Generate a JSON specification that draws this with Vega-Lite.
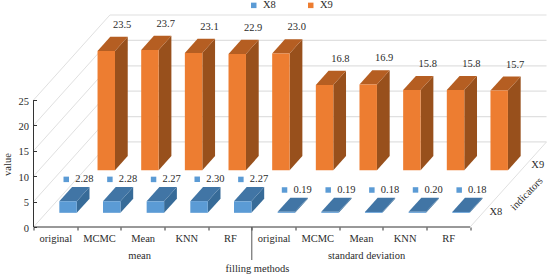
{
"$schema":"https://vega.github.io/schema/vega-lite/v6.json",
"width":513,"height":212,
"autosize":{"type":"none"},
"padding":{"left":33.5,"top":15,"right":3.5,"bottom":50},
"background":"white",
"config":{"view":{"stroke":null},"font":"Liberation Serif","text":{"font":"Liberation Serif","fontSize":10.5,"color":"#2b2b2b"}},
"datasets":{
"bars":[
{"group":"mean","method":"original","indicator":"X8","value":2.28},
{"group":"mean","method":"MCMC","indicator":"X8","value":2.28},
{"group":"mean","method":"Mean","indicator":"X8","value":2.27},
{"group":"mean","method":"KNN","indicator":"X8","value":2.30},
{"group":"mean","method":"RF","indicator":"X8","value":2.27},
{"group":"standard deviation","method":"original","indicator":"X8","value":0.19},
{"group":"standard deviation","method":"MCMC","indicator":"X8","value":0.19},
{"group":"standard deviation","method":"Mean","indicator":"X8","value":0.18},
{"group":"standard deviation","method":"KNN","indicator":"X8","value":0.20},
{"group":"standard deviation","method":"RF","indicator":"X8","value":0.18},
{"group":"mean","method":"original","indicator":"X9","value":23.5},
{"group":"mean","method":"MCMC","indicator":"X9","value":23.7},
{"group":"mean","method":"Mean","indicator":"X9","value":23.1},
{"group":"mean","method":"KNN","indicator":"X9","value":22.9},
{"group":"mean","method":"RF","indicator":"X9","value":23.0},
{"group":"standard deviation","method":"original","indicator":"X9","value":16.8},
{"group":"standard deviation","method":"MCMC","indicator":"X9","value":16.9},
{"group":"standard deviation","method":"Mean","indicator":"X9","value":15.8},
{"group":"standard deviation","method":"KNN","indicator":"X9","value":15.8},
{"group":"standard deviation","method":"RF","indicator":"X9","value":15.7}
],
"grid":[{"tick":0},{"tick":5},{"tick":10},{"tick":15},{"tick":20},{"tick":25}]
},
"data":{"name":"bars"},
"transform":[
{"window":[{"op":"row_number","as":"n"}],"groupby":["indicator"]},
{"calculate":"datum.n-1","as":"idx"},
{"calculate":"datum.idx+0.3","as":"c0"},
{"calculate":"datum.idx+0.7","as":"c1"},
{"calculate":"datum.indicator=='X8'?1/6:2/3","as":"dF"},
{"calculate":"datum.dF+1/6","as":"dB"}
],
"resolve":{"scale":{"color":"independent"},"axis":{"x":"independent","y":"independent"}},
"layer":[
{"data":{"name":"grid"},"transform":[{"calculate":"datum.tick+16.75","as":"ty"}],
 "mark":{"type":"rule","color":"#e0e0e0","strokeWidth":1.2},
 "encoding":{
 "x":{"datum":1.75,"type":"quantitative","scale":{"domain":[0,11.75],"nice":false,"zero":false},
  "axis":{"values":[0,1,2,3,4,5,6,7,8,9,10],"domain":false,"grid":false,"tickSize":3,"tickColor":"#333333","labelFontSize":10.5,"labelFont":"Liberation Serif","labelColor":"#2b2b2b","labelOffset":21.83,"labelPadding":3,"labelOverlap":false,"labelFlush":false,"labelExpr":"['original','MCMC','Mean','KNN','RF','original','MCMC','Mean','KNN','RF',''][datum.value]","title":"filling methods","titleFont":"Liberation Serif","titleFontSize":10.5,"titleFontWeight":"normal","titleColor":"#2b2b2b","titleX":223.5,"titleY":41,"titleAnchor":"middle","titleBaseline":"middle"}},
 "x2":{"datum":11.75},
 "y":{"field":"ty","type":"quantitative","scale":{"domain":[0,41.75],"nice":false,"zero":false},
  "axis":{"values":[0,5,10,15,20,25],"domain":false,"grid":false,"tickSize":-3,"tickColor":"#333333","labelFontSize":10.5,"labelFont":"Liberation Serif","labelColor":"#2b2b2b","labelPadding":8,"labelOffset":1,"title":"value","titleFont":"Liberation Serif","titleFontSize":10.5,"titleFontWeight":"normal","titleColor":"#2b2b2b","titleX":-26.5,"titleY":149,"titleAngle":-90,"titleAnchor":"middle","titleBaseline":"middle"}}
 }},
{"data":{"name":"grid"},"transform":[{"calculate":"datum.tick+16.75","as":"ty"}],
 "mark":{"type":"rule","color":"#e0e0e0","strokeWidth":1},
 "encoding":{
 "x":{"datum":0,"type":"quantitative","scale":{"domain":[0,11.75],"nice":false,"zero":false},"axis":null},
 "x2":{"datum":1.75},
 "y":{"field":"tick","type":"quantitative","scale":{"domain":[0,41.75],"nice":false,"zero":false},"axis":null},
 "y2":{"field":"ty"}
 }},
{"data":{"name":"grid"},"transform":[{"filter":"datum.tick==0"},{"calculate":"datum.tick+16.75","as":"ty"}],
 "mark":{"type":"rule","color":"#e0e0e0","strokeWidth":1},
 "encoding":{
 "x":{"datum":10,"type":"quantitative","scale":{"domain":[0,11.75],"nice":false,"zero":false},"axis":null},
 "x2":{"datum":11.75},
 "y":{"field":"tick","type":"quantitative","scale":{"domain":[0,41.75],"nice":false,"zero":false},"axis":null},
 "y2":{"field":"ty"}
 }},
{"data":{"name":"grid"},"transform":[{"filter":"datum.tick==0"}],
 "mark":{"type":"rule","color":"#333333","strokeWidth":1},
 "encoding":{
 "x":{"datum":0,"type":"quantitative","scale":{"domain":[0,11.75],"nice":false,"zero":false},"axis":null},
 "x2":{"datum":10},
 "y":{"field":"tick","type":"quantitative","scale":{"domain":[0,41.75],"nice":false,"zero":false},"axis":null}
 }},
{"data":{"name":"grid"},"transform":[{"filter":"datum.tick==0"}],
 "mark":{"type":"rule","color":"#333333","strokeWidth":1},
 "encoding":{
 "x":{"datum":0,"type":"quantitative","scale":{"domain":[0,11.75],"nice":false,"zero":false},"axis":null},
 "y":{"datum":0,"type":"quantitative","scale":{"domain":[0,41.75],"nice":false,"zero":false},"axis":null},
 "y2":{"datum":25}
 }},
{"data":{"name":"grid"},"transform":[{"filter":"datum.tick==0"}],
 "mark":{"type":"rule","color":"#555555","strokeWidth":1},
 "encoding":{
 "x":{"datum":5,"type":"quantitative","scale":{"domain":[0,11.75],"nice":false,"zero":false},"axis":null},
 "y":{"datum":0,"type":"quantitative","scale":{"domain":[0,41.75],"nice":false,"zero":false},"axis":null},
 "y2":{"datum":-6.5}
 }},
{"transform":[{"fold":["dF","dB"],"as":["edge","d"]},
 {"calculate":"datum.c1+1.75*datum.d","as":"sx"},
 {"calculate":"datum.value+16.75*datum.d","as":"st"},
 {"calculate":"16.75*datum.d","as":"sb"}],
 "mark":{"type":"area","orient":"vertical","opacity":1},
 "encoding":{
 "x":{"field":"sx","type":"quantitative","scale":{"domain":[0,11.75],"nice":false,"zero":false},"axis":null},
 "y":{"field":"st","type":"quantitative","scale":{"domain":[0,41.75],"nice":false,"zero":false},"axis":null},
 "y2":{"field":"sb"},
 "detail":{"field":"idx"},
 "color":{"field":"indicator","type":"nominal","legend":null,"scale":{"domain":["X8","X9"],"range":["#376B98","#98501C"]}}
 }},
{"transform":[{"fold":["dF","dB"],"as":["edge","d"]},
 {"calculate":"datum.c0+1.75*datum.d","as":"tx0"},
 {"calculate":"datum.c1+1.75*datum.d","as":"tx1"},
 {"calculate":"datum.value+16.75*datum.d","as":"st"}],
 "mark":{"type":"area","orient":"horizontal","opacity":1},
 "encoding":{
 "y":{"field":"st","type":"quantitative","scale":{"domain":[0,41.75],"nice":false,"zero":false},"axis":null},
 "x":{"field":"tx0","type":"quantitative","scale":{"domain":[0,11.75],"nice":false,"zero":false},"axis":null},
 "x2":{"field":"tx1"},
 "detail":{"field":"idx"},
 "color":{"field":"indicator","type":"nominal","legend":null,"scale":{"domain":["X8","X9"],"range":["#4175A5","#B55E22"]}}
 }},
{"transform":[
 {"calculate":"datum.c0+1.75*datum.dF","as":"fx0"},
 {"calculate":"datum.c1+1.75*datum.dF","as":"fx1"},
 {"calculate":"datum.value+16.75*datum.dF","as":"ft"},
 {"calculate":"16.75*datum.dF","as":"fb"}],
 "mark":{"type":"rect"},
 "encoding":{
 "x":{"field":"fx0","type":"quantitative","scale":{"domain":[0,11.75],"nice":false,"zero":false},"axis":null},
 "x2":{"field":"fx1"},
 "y":{"field":"ft","type":"quantitative","scale":{"domain":[0,41.75],"nice":false,"zero":false},"axis":null},
 "y2":{"field":"fb"},
 "color":{"field":"indicator","type":"nominal","scale":{"domain":["X8","X9"],"range":["#5B9BD5","#ED7D31"]},
  "legend":{"orient":"none","legendX":215,"legendY":-15,"direction":"horizontal","columns":2,"columnPadding":29,"title":null,"symbolType":"square","symbolSize":30,"labelFont":"Liberation Serif","labelFontSize":10.5,"labelColor":"#2b2b2b","symbolStrokeWidth":0}}
 }},
{"transform":[{"calculate":"datum.idx+(datum.indicator=='X8'?1.165:2.03)","as":"lx"},
 {"calculate":"datum.value+(datum.indicator=='X8'?7.1:16.3)","as":"ly"},
 {"calculate":"format(datum.value,datum.indicator=='X8'?'.2f':'.1f')","as":"lab"}],
 "mark":{"type":"text","align":"center","baseline":"middle"},
 "encoding":{
 "x":{"field":"lx","type":"quantitative","scale":{"domain":[0,11.75],"nice":false,"zero":false},"axis":null},
 "y":{"field":"ly","type":"quantitative","scale":{"domain":[0,41.75],"nice":false,"zero":false},"axis":null},
 "text":{"field":"lab","type":"nominal"}
 }},
{"transform":[{"filter":"datum.indicator=='X8'"},{"calculate":"datum.idx+0.75","as":"lx"},
 {"calculate":"datum.value+7.1","as":"ly"}],
 "mark":{"type":"point","shape":"square","filled":true,"size":30,"opacity":1},
 "encoding":{
 "x":{"field":"lx","type":"quantitative","scale":{"domain":[0,11.75],"nice":false,"zero":false},"axis":null},
 "y":{"field":"ly","type":"quantitative","scale":{"domain":[0,41.75],"nice":false,"zero":false},"axis":null},
 "color":{"field":"indicator","type":"nominal","legend":null,"scale":{"domain":["X8","X9"],"range":["#5B9BD5","#ED7D31"]}}
 }},
{"transform":[{"aggregate":[{"op":"count","as":"k"}],"groupby":["group"]},
 {"calculate":"datum.group=='mean'?2.43:7.63","as":"gx"},
 {"calculate":"-5.71","as":"gy"}],
 "mark":{"type":"text","align":"center","baseline":"middle"},
 "encoding":{
 "x":{"field":"gx","type":"quantitative","scale":{"domain":[0,11.75],"nice":false,"zero":false},"axis":null},
 "y":{"field":"gy","type":"quantitative","scale":{"domain":[0,41.75],"nice":false,"zero":false},"axis":null},
 "text":{"field":"group","type":"nominal"}
 }},
{"transform":[{"aggregate":[{"op":"mean","field":"dF","as":"df"}],"groupby":["indicator"]},
 {"calculate":"10.11+1.92*(datum.df+1/12)","as":"ix"},
 {"calculate":"-1.675+18.5*(datum.df+1/12)","as":"iy"}],
 "mark":{"type":"text","align":"center","baseline":"middle"},
 "encoding":{
 "x":{"field":"ix","type":"quantitative","scale":{"domain":[0,11.75],"nice":false,"zero":false},"axis":null},
 "y":{"field":"iy","type":"quantitative","scale":{"domain":[0,41.75],"nice":false,"zero":false},"axis":null},
 "text":{"field":"indicator","type":"nominal"}
 }},
{"data":{"name":"grid"},"transform":[{"filter":"datum.tick==0"}],
 "mark":{"type":"text","align":"center","baseline":"middle","angle":-46,"text":"indicators"},
 "encoding":{
 "x":{"datum":11.3,"type":"quantitative","scale":{"domain":[0,11.75],"nice":false,"zero":false},"axis":null},
 "y":{"datum":6.5,"type":"quantitative","scale":{"domain":[0,41.75],"nice":false,"zero":false},"axis":null}
 }}
]
}
